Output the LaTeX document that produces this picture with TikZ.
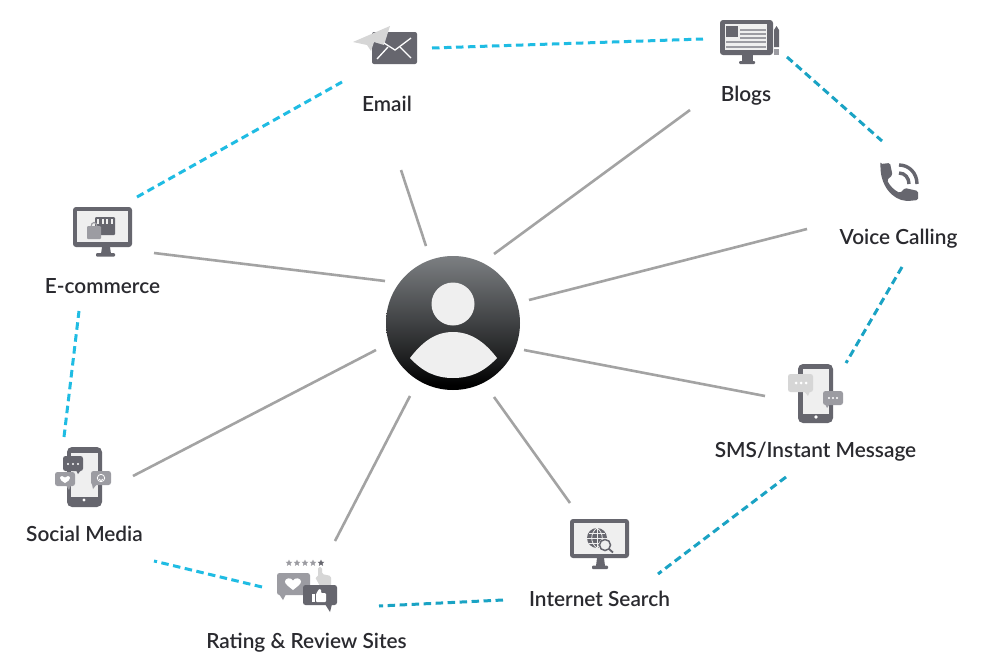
\documentclass[tikz,border=0pt]{standalone}
\usepackage{fontspec}
\setmainfont{Lato Semibold}
\usetikzlibrary{shapes.geometric}
\definecolor{ink}{HTML}{66666E}
\definecolor{midg}{HTML}{9C9CA2}
\definecolor{lightg}{HTML}{D6D6D6}
\definecolor{scr}{HTML}{EFEFEF}
\definecolor{spokec}{HTML}{A3A3A3}
\definecolor{dashA}{HTML}{1FBCE3}
\definecolor{dashB}{HTML}{1AA3C4}
\definecolor{labelc}{HTML}{2A2A2F}
\definecolor{hubtop}{HTML}{7C7F82}
\definecolor{hubmid}{HTML}{3F4143}
\definecolor{hublow}{HTML}{1C1D1E}
\pgfdeclareverticalshading{hubshade}{100bp}{
  color(0bp)=(black);
  color(27bp)=(black);
  color(36bp)=(hublow);
  color(50bp)=(hubmid);
  color(75bp)=(hubtop);
  color(100bp)=(hubtop)}
\tikzset{
  lab/.style={font=\fontsize{20.8}{24}\selectfont,text=labelc,inner sep=0pt,anchor=base},
  spoke/.style={draw=spokec,line width=2.6pt},
  dashlink/.style={draw=dashA,line width=3pt,dash pattern=on 7.5pt off 4.5pt},
  dashlinkb/.style={draw=dashB,line width=3pt,dash pattern=on 7.5pt off 4.5pt},
  rr/.style={rounded corners=2.5pt},
}
\begin{document}
\begin{tikzpicture}[x=1pt,y=-1pt]
\useasboundingbox (0,0) rectangle (994,672);
\fill[white] (0,0) rectangle (994,672);

% hub
\node[circle,minimum size=134pt,inner sep=0pt,shading=hubshade] (hub) at (453,323) {};
\fill[scr] (453,304) circle[radius=21.5];
\fill[scr] (410,358) .. controls (423,341) and (436,332) .. (453,332) .. controls (470,332) and (484,341) .. (497,358) .. controls (484,372) and (470,378) .. (453,378) .. controls (436,378) and (423,372) .. (410,358) -- cycle;

% labels
\node[lab] (email) at (387,111.5) {Email};
\node[lab] (blogs) at (746,101.5) {Blogs};
\node[lab] (voice) at (898.5,244.5) {Voice Calling};
\node[lab] (sms) at (815.5,457.5) {SMS/Instant Message};
\node[lab] (search) at (599.5,606.5) {Internet Search};
\node[lab] (rating) at (306.5,648.5) {Rating \& Review Sites};
\node[lab] (social) at (84.5,541.5) {Social Media};
\node[lab] (ecomm) at (102.5,293.5) {E-commerce};

% spoke ends
\coordinate (hE) at (426,246); \coordinate (tE) at (401,170);
\coordinate (hB) at (494,254); \coordinate (tB) at (690,110);
\coordinate (hV) at (529,300); \coordinate (tV) at (807,229);
\coordinate (hS) at (524,350); \coordinate (tS) at (765,396);
\coordinate (hI) at (494,397); \coordinate (tI) at (570,503);
\coordinate (hR) at (410,396); \coordinate (tR) at (335,541);
\coordinate (hM) at (376,350); \coordinate (tM) at (133,476);
\coordinate (hC) at (385,281); \coordinate (tC) at (154,253);
\foreach \a/\b in {hE/tE,hB/tB,hV/tV,hS/tS,hI/tI,hR/tR,hM/tM,hC/tC} \draw[spoke] (\a) -- (\b);

% dashed ring
\coordinate (d1a) at (432,48);  \coordinate (d1b) at (703,39);
\coordinate (d2a) at (787,57);  \coordinate (d2b) at (882,141);
\coordinate (d3a) at (902,267); \coordinate (d3b) at (846,363);
\coordinate (d4a) at (786,477); \coordinate (d4b) at (658,574);
\coordinate (d5a) at (503,600); \coordinate (d5b) at (379,606);
\coordinate (d6a) at (262,587); \coordinate (d6b) at (154,561);
\coordinate (d7a) at (64,437);  \coordinate (d7b) at (79,311);
\coordinate (d8a) at (137,197); \coordinate (d8b) at (342,82);
\draw[dashlink] (d1a) -- (d1b);
\draw[dashlinkb] (d2a) -- (d2b);
\draw[dashlinkb] (d3a) -- (d3b);
\draw[dashlinkb] (d4a) -- (d4b);
\draw[dashlinkb] (d5a) -- (d5b);
\draw[dashlink] (d6a) -- (d6b);
\draw[dashlink] (d7a) -- (d7b);
\draw[dashlink] (d8a) -- (d8b);

% Email icon
\fill[ink,rounded corners=2pt] (372,32) rectangle (417,64);
\fill[lightg] (353,42) -- (390,26) -- (384,45) -- (374,42) -- (371,51) -- (367,45) -- cycle;
\draw[white,line width=1.3pt] (384,43) -- (395,50) -- (411,38);
\draw[white,line width=1.3pt] (377,59) -- (388,47);
\draw[white,line width=1.3pt] (411,58) -- (400,47);

% Blogs icon
\fill[ink,rounded corners=3pt] (720,20) rectangle (773,55);
\fill[scr] (725,24) rectangle (767,50);
\fill[ink] (726,26) rectangle (738,37);
\foreach \yy in {29,33,37} \fill[midg] (740,\yy) rectangle (766,\yy+1.7);
\fill[midg] (726,41) rectangle (766,43);
\fill[midg] (726,46) rectangle (766,48);
\fill[ink] (742,55) rectangle (753,62);
\fill[ink,rounded corners=1pt] (739,61) rectangle (755,64);
\fill[ink] (774,30) -- (776.5,26) -- (779,30) -- (779,47) -- (774,47) -- cycle;
\fill[midg] (774,48.5) rectangle (779,55);

% Voice icon
\fill[ink,rounded corners=1.5pt] (880.5,164) -- (890,163) -- (892.5,175) -- (887,180) .. controls (890,186) and (894,190) .. (900,193) -- (905,188) -- (918,191) -- (918,200) -- (908,201) .. controls (892,200) and (880,185) .. (880.5,164) -- cycle;
\draw[ink,line width=3.4pt] (899,165) .. controls (909,165) and (917,173) .. (917,184);
\draw[ink,line width=3.4pt] (899,173) .. controls (905,173) and (909,178) .. (909,184);

% SMS icon
\fill[ink,rounded corners=5pt] (798,364) rectangle (833,423);
\fill[scr] (803,369) rectangle (829,414);
\fill[white] (816,417) circle[radius=1.8];
\fill[lightg,rr] (788,374) rectangle (813,392);
\fill[lightg] (804,391) -- (810,391) -- (808,396) -- cycle;
\fill[midg,rr] (823,391) rectangle (843,405);
\fill[midg] (825,404) -- (830,404) -- (827,408) -- cycle;
\foreach \xx in {796,801,806} \fill[white] (\xx,383) circle[radius=1.5];
\foreach \xx in {829,833,837} \fill[white] (\xx,398) circle[radius=1.2];

% Search icon
\fill[ink,rounded corners=3pt] (570,519) rectangle (629,558);
\fill[scr] (573.5,523) rectangle (625,554);
\fill[ink] (597,558) -- (604,558) -- (605,566) -- (596,566) -- cycle;
\fill[ink,rounded corners=1pt] (592,565.5) rectangle (608,569);
\fill[ink] (597,538) circle[radius=10];
\draw[scr,line width=.8pt] (587,538) -- (607,538) (589,533) -- (605,533) (589,543) -- (605,543) (597,528) -- (597,548);
\draw[scr,line width=.8pt] (597,528) .. controls (590,533) and (590,543) .. (597,548);
\draw[scr,line width=.8pt] (597,528) .. controls (604,533) and (604,543) .. (597,548);
\fill[scr] (605,545) circle[radius=6.5];
\draw[ink,line width=1.5pt] (605,545) circle[radius=5.5];
\draw[ink,line width=1.8pt] (609,549) -- (613,552.5);

% Rating icon
\foreach \xx/\cc in {289/midg,297/midg,305/midg,313/midg,321/ink}
  \node[star,star points=5,star point ratio=2.2,minimum size=7pt,inner sep=0pt,fill=\cc,draw=none] (st\xx) at (\xx,563) {};
\fill[lightg,rounded corners=1.5pt] (318,567) -- (322,567) -- (322,574) -- (331,576) -- (331,586) -- (320,586) -- (315,577) -- (318,577) -- cycle;
\fill[midg,rr] (277,573) rectangle (310,595);
\fill[midg] (279,594) -- (286,594) -- (283,600) -- cycle;
\fill[white] (293,590) .. controls (288,586) and (285,584) .. (285,581.5) .. controls (285,578) and (291,577) .. (293,580.5) .. controls (295,577) and (301,578) .. (301,581.5) .. controls (301,584) and (298,586) .. (293,590) -- cycle;
\fill[ink,rr] (303,585) rectangle (337,605);
\fill[ink] (325,604) -- (332,604) -- (330,612) -- cycle;
\fill[white] (312,594) rectangle (315,602);
\fill[white,rounded corners=1pt] (316,594) -- (319,589) -- (321,589) -- (321,593) -- (326,593) -- (326,602) -- (316,602) -- cycle;

% Social icon
\fill[ink,rounded corners=5pt] (67,447) rectangle (102,507);
\fill[scr] (71,453) rectangle (98,497);
\fill[white] (84,500) circle[radius=1.7];
\fill[ink,rr] (63,456) rectangle (83,471);
\fill[ink] (76,470) -- (81,470) -- (78,474) -- cycle;
\foreach \xx in {68,73,78} \fill[white] (\xx,464) circle[radius=1.2];
\fill[midg,rr] (55,472) rectangle (75,486);
\fill[midg] (66,485) -- (71,485) -- (69,490) -- cycle;
\fill[white] (65,483) .. controls (62,481) and (60,480) .. (60,478) .. controls (60,475.5) and (64,475.5) .. (65,477.5) .. controls (66,475.5) and (70,475.5) .. (70,478) .. controls (70,480) and (68,481) .. (65,483) -- cycle;
\fill[midg,rr] (91,471) rectangle (111,485);
\fill[midg] (92,484) -- (97,484) -- (93,489) -- cycle;
\draw[white,line width=.8pt] (101,478) circle[radius=3.7];
\draw[white,line width=.7pt] (99,479) .. controls (100,481) and (102,481) .. (103,479);

% E-commerce icon
\fill[ink,rounded corners=3pt] (73,207) rectangle (132,247);
\fill[scr] (77,211) rectangle (128,242);
\fill[ink] (102,247) -- (110,247) -- (111,254) -- (101,254) -- cycle;
\fill[ink,rounded corners=1pt] (96,253) rectangle (115,256.5);
\fill[ink,rounded corners=1pt] (95,217) rectangle (115,235);
\foreach \xx in {97,101.5,106,110.5} \fill[scr] (\xx,219) rectangle (\xx+2,224);
\draw[midg,line width=1.2pt] (91,227) .. controls (91,221) and (97,221) .. (97,227);
\fill[midg,rounded corners=1pt] (87,226) rectangle (101,239);
\end{tikzpicture}
\end{document}
